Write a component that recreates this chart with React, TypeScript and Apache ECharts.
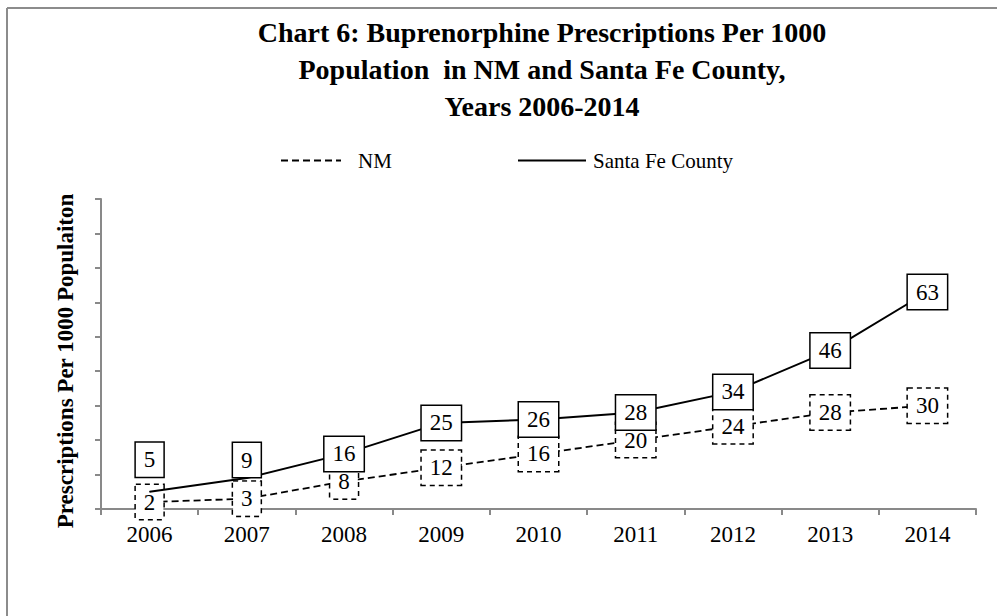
import React, { useEffect, useRef } from "react";
import * as echarts from "echarts";

const years = ["2006", "2007", "2008", "2009", "2010", "2011", "2012", "2013", "2014"];
const nmValues = [2, 3, 8, 12, 16, 20, 24, 28, 30];
const santaFeValues = [5, 9, 16, 25, 26, 28, 34, 46, 63];
const santaFeLabelShift = [-32, -18, 0, 0, 0, 0, 0, 0, 0];

const FONT = "'Liberation Serif', 'Times New Roman', serif";

export default function App() {
  const ref = useRef<HTMLDivElement>(null);
  useEffect(() => {
    if (!ref.current) return;
    const chart = echarts.init(ref.current, null, { renderer: "svg" });
    const labelBase = {
      show: true,
      position: "inside",
      color: "#000",
      fontFamily: FONT,
      fontSize: 23,
      backgroundColor: "#fff",
      borderColor: "#000",
      borderWidth: 1.5,
      padding: [6, 8, 5, 8],
    };
    chart.setOption({
      animation: false,
      backgroundColor: "#fff",
      title: {
        text: "Chart 6: Buprenorphine Prescriptions Per 1000\nPopulation  in NM and Santa Fe County,\nYears 2006-2014",
        left: 537,
        textAlign: "center",
        top: 9,
        textStyle: {
          fontFamily: FONT,
          fontWeight: "bold",
          fontSize: 28,
          lineHeight: 37,
          color: "#000",
        },
      },
      legend: [
        {
          data: ["NM"],
          left: 280,
          top: 150,
          padding: 0,
          itemWidth: 60,
          itemHeight: 14,
          itemStyle: { opacity: 0 },
          textStyle: { fontFamily: FONT, fontSize: 21, color: "#000", padding: [0, 0, 0, 12] },
        },
        {
          data: ["Santa Fe County"],
          left: 517,
          top: 150,
          padding: 0,
          itemWidth: 68,
          itemHeight: 14,
          itemStyle: { opacity: 0 },
          textStyle: { fontFamily: FONT, fontSize: 21, color: "#000", padding: [0, 0, 0, 2] },
        },
      ],
      grid: { left: 101, right: 21, top: 199, bottom: 107, containLabel: false },
      xAxis: {
        type: "category",
        data: years,
        boundaryGap: true,
        axisLine: { lineStyle: { color: "#898989", width: 2 } },
        axisTick: { show: true, length: 6, interval: 0, lineStyle: { color: "#898989", width: 2 } },
        axisLabel: { color: "#000", fontFamily: FONT, fontSize: 23, margin: 14 },
        splitLine: { show: false },
      },
      yAxis: {
        type: "value",
        min: 0,
        max: 90,
        interval: 10,
        name: "Prescriptions Per 1000 Populaiton",
        nameLocation: "middle",
        nameRotate: 90,
        nameGap: 24,
        nameTextStyle: {
          fontFamily: FONT,
          fontWeight: "bold",
          fontSize: 23,
          color: "#000",
          padding: [0, 14, 0, 0],
        },
        axisLine: { show: true, lineStyle: { color: "#898989", width: 2 } },
        axisTick: { show: true, length: 6, lineStyle: { color: "#898989", width: 2 } },
        axisLabel: { show: false },
        splitLine: { show: false },
      },
      graphic: [
        { type: "line", shape: { x1: 7, y1: 8, x2: 7, y2: 616 }, style: { stroke: "#8c8c8c", lineWidth: 2 } },
        { type: "line", shape: { x1: 7, y1: 8, x2: 997, y2: 8 }, style: { stroke: "#8c8c8c", lineWidth: 2 } },
      ],
      series: [
        {
          name: "NM",
          type: "line",
          data: nmValues,
          symbol: "circle",
          symbolSize: 1,
          itemStyle: { color: "#000" },
          lineStyle: { color: "#000", width: 1.8, type: [7, 4] },
          label: { ...labelBase, borderType: [5, 4] },
          z: 2,
        },
        {
          name: "Santa Fe County",
          type: "line",
          data: santaFeValues.map((v, i) => ({
            value: v,
            label: { offset: [0, santaFeLabelShift[i]] },
          })),
          symbol: "circle",
          symbolSize: 1,
          itemStyle: { color: "#000" },
          lineStyle: { color: "#000", width: 2 },
          label: { ...labelBase },
          z: 3,
        },
      ],
    });
    return () => chart.dispose();
  }, []);
  return <div ref={ref} style={{ position: "fixed", left: 0, top: 0, width: 997, height: 616 }} />;
}
